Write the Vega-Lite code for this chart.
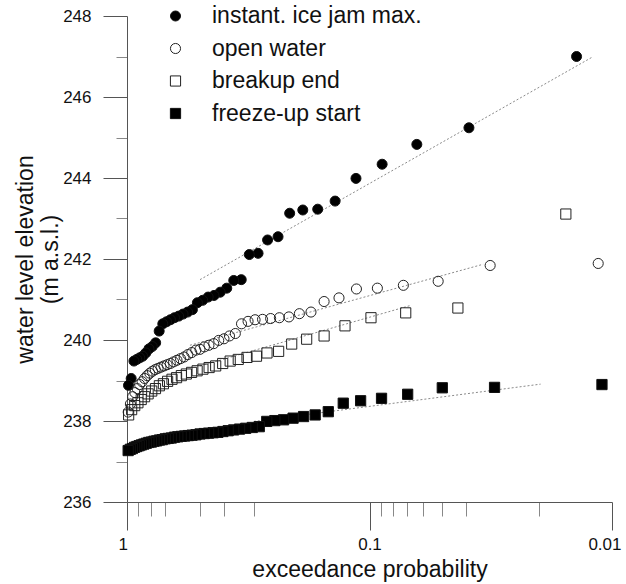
{
  "$schema": "https://vega.github.io/schema/vega-lite/v6.json",
  "width": 485,
  "height": 486,
  "autosize": "none",
  "padding": {"left": 127, "top": 16, "right": 14, "bottom": 82},
  "config": {
    "view": {"stroke": null},
    "font": "Liberation Sans",
    "axis": {"grid": false, "domainColor": "#555", "tickColor": "#555", "labelColor": "#111", "titleColor": "#111", "titleFontWeight": "normal", "labelFont": "Liberation Sans", "titleFont": "Liberation Sans"},
    "legend": {"orient": "none", "legendX": 37, "legendY": -11.5, "title": null, "labelFontSize": 23, "labelColor": "#111", "labelFont": "Liberation Sans", "labelLimit": 400, "rowPadding": 8.5, "labelOffset": 25, "padding": 0, "symbolStrokeWidth": 1}
  },
  "datasets": {
    "lines": [
      {"series": "ice", "p": 0.5, "y": 241.49},
      {"series": "ice", "p": 0.0121, "y": 246.98},
      {"series": "open", "p": 0.55, "y": 239.87},
      {"series": "open", "p": 0.034, "y": 241.87},
      {"series": "breakup", "p": 0.5, "y": 239.36},
      {"series": "breakup", "p": 0.068, "y": 240.85},
      {"series": "freeze", "p": 0.3, "y": 237.99},
      {"series": "freeze", "p": 0.0197, "y": 238.91}
    ],
    "pts": [
      {"series": "instant. ice jam max.", "p": 0.0140, "y": 247.0},
      {"series": "instant. ice jam max.", "p": 0.0389, "y": 245.24},
      {"series": "instant. ice jam max.", "p": 0.0638, "y": 244.83},
      {"series": "instant. ice jam max.", "p": 0.0887, "y": 244.34},
      {"series": "instant. ice jam max.", "p": 0.1137, "y": 243.99},
      {"series": "instant. ice jam max.", "p": 0.1386, "y": 243.43},
      {"series": "instant. ice jam max.", "p": 0.1635, "y": 243.23},
      {"series": "instant. ice jam max.", "p": 0.1884, "y": 243.21},
      {"series": "instant. ice jam max.", "p": 0.2134, "y": 243.13},
      {"series": "instant. ice jam max.", "p": 0.2383, "y": 242.55},
      {"series": "instant. ice jam max.", "p": 0.2632, "y": 242.47},
      {"series": "instant. ice jam max.", "p": 0.2881, "y": 242.14},
      {"series": "instant. ice jam max.", "p": 0.3131, "y": 242.11},
      {"series": "instant. ice jam max.", "p": 0.3380, "y": 241.49},
      {"series": "instant. ice jam max.", "p": 0.3629, "y": 241.47},
      {"series": "instant. ice jam max.", "p": 0.3878, "y": 241.28},
      {"series": "instant. ice jam max.", "p": 0.4128, "y": 241.18},
      {"series": "instant. ice jam max.", "p": 0.4377, "y": 241.1},
      {"series": "instant. ice jam max.", "p": 0.4626, "y": 241.06},
      {"series": "instant. ice jam max.", "p": 0.4875, "y": 240.98},
      {"series": "instant. ice jam max.", "p": 0.5125, "y": 240.92},
      {"series": "instant. ice jam max.", "p": 0.5374, "y": 240.75},
      {"series": "instant. ice jam max.", "p": 0.5623, "y": 240.69},
      {"series": "instant. ice jam max.", "p": 0.5872, "y": 240.64},
      {"series": "instant. ice jam max.", "p": 0.6122, "y": 240.59},
      {"series": "instant. ice jam max.", "p": 0.6371, "y": 240.55},
      {"series": "instant. ice jam max.", "p": 0.6620, "y": 240.5},
      {"series": "instant. ice jam max.", "p": 0.6869, "y": 240.45},
      {"series": "instant. ice jam max.", "p": 0.7119, "y": 240.4},
      {"series": "instant. ice jam max.", "p": 0.7368, "y": 240.22},
      {"series": "instant. ice jam max.", "p": 0.7617, "y": 239.93},
      {"series": "instant. ice jam max.", "p": 0.7866, "y": 239.84},
      {"series": "instant. ice jam max.", "p": 0.8116, "y": 239.78},
      {"series": "instant. ice jam max.", "p": 0.8365, "y": 239.68},
      {"series": "instant. ice jam max.", "p": 0.8614, "y": 239.6},
      {"series": "instant. ice jam max.", "p": 0.8863, "y": 239.56},
      {"series": "instant. ice jam max.", "p": 0.9113, "y": 239.52},
      {"series": "instant. ice jam max.", "p": 0.9362, "y": 239.48},
      {"series": "instant. ice jam max.", "p": 0.9611, "y": 239.05},
      {"series": "instant. ice jam max.", "p": 0.9860, "y": 238.88},

      {"series": "open water", "p": 0.0114, "y": 241.89},
      {"series": "open water", "p": 0.0318, "y": 241.84},
      {"series": "open water", "p": 0.0521, "y": 241.45},
      {"series": "open water", "p": 0.0725, "y": 241.35},
      {"series": "open water", "p": 0.0928, "y": 241.28},
      {"series": "open water", "p": 0.1132, "y": 241.26},
      {"series": "open water", "p": 0.1336, "y": 241.04},
      {"series": "open water", "p": 0.1539, "y": 240.95},
      {"series": "open water", "p": 0.1743, "y": 240.69},
      {"series": "open water", "p": 0.1946, "y": 240.65},
      {"series": "open water", "p": 0.2150, "y": 240.57},
      {"series": "open water", "p": 0.2353, "y": 240.55},
      {"series": "open water", "p": 0.2557, "y": 240.53},
      {"series": "open water", "p": 0.2761, "y": 240.51},
      {"series": "open water", "p": 0.2964, "y": 240.5},
      {"series": "open water", "p": 0.3168, "y": 240.46},
      {"series": "open water", "p": 0.3371, "y": 240.4},
      {"series": "open water", "p": 0.3575, "y": 240.16},
      {"series": "open water", "p": 0.3779, "y": 240.1},
      {"series": "open water", "p": 0.3982, "y": 240.03},
      {"series": "open water", "p": 0.4186, "y": 239.99},
      {"series": "open water", "p": 0.4389, "y": 239.91},
      {"series": "open water", "p": 0.4593, "y": 239.87},
      {"series": "open water", "p": 0.4796, "y": 239.83},
      {"series": "open water", "p": 0.5000, "y": 239.77},
      {"series": "open water", "p": 0.5204, "y": 239.75},
      {"series": "open water", "p": 0.5407, "y": 239.69},
      {"series": "open water", "p": 0.5611, "y": 239.64},
      {"series": "open water", "p": 0.5814, "y": 239.58},
      {"series": "open water", "p": 0.6018, "y": 239.54},
      {"series": "open water", "p": 0.6221, "y": 239.5},
      {"series": "open water", "p": 0.6425, "y": 239.46},
      {"series": "open water", "p": 0.6629, "y": 239.42},
      {"series": "open water", "p": 0.6832, "y": 239.39},
      {"series": "open water", "p": 0.7036, "y": 239.36},
      {"series": "open water", "p": 0.7239, "y": 239.33},
      {"series": "open water", "p": 0.7443, "y": 239.3},
      {"series": "open water", "p": 0.7647, "y": 239.27},
      {"series": "open water", "p": 0.7850, "y": 239.23},
      {"series": "open water", "p": 0.8054, "y": 239.18},
      {"series": "open water", "p": 0.8257, "y": 239.12},
      {"series": "open water", "p": 0.8461, "y": 239.05},
      {"series": "open water", "p": 0.8664, "y": 238.97},
      {"series": "open water", "p": 0.8868, "y": 238.9},
      {"series": "open water", "p": 0.9072, "y": 238.8},
      {"series": "open water", "p": 0.9275, "y": 238.7},
      {"series": "open water", "p": 0.9479, "y": 238.6},
      {"series": "open water", "p": 0.9682, "y": 238.42},
      {"series": "open water", "p": 0.9886, "y": 238.22},

      {"series": "breakup end", "p": 0.0155, "y": 243.11},
      {"series": "breakup end", "p": 0.0432, "y": 240.79},
      {"series": "breakup end", "p": 0.0709, "y": 240.67},
      {"series": "breakup end", "p": 0.0986, "y": 240.55},
      {"series": "breakup end", "p": 0.1262, "y": 240.35},
      {"series": "breakup end", "p": 0.1539, "y": 240.1},
      {"series": "breakup end", "p": 0.1816, "y": 240.02},
      {"series": "breakup end", "p": 0.2093, "y": 239.9},
      {"series": "breakup end", "p": 0.2370, "y": 239.72},
      {"series": "breakup end", "p": 0.2647, "y": 239.68},
      {"series": "breakup end", "p": 0.2924, "y": 239.6},
      {"series": "breakup end", "p": 0.3200, "y": 239.57},
      {"series": "breakup end", "p": 0.3477, "y": 239.52},
      {"series": "breakup end", "p": 0.3754, "y": 239.48},
      {"series": "breakup end", "p": 0.4031, "y": 239.42},
      {"series": "breakup end", "p": 0.4308, "y": 239.36},
      {"series": "breakup end", "p": 0.4585, "y": 239.32},
      {"series": "breakup end", "p": 0.4862, "y": 239.28},
      {"series": "breakup end", "p": 0.5138, "y": 239.24},
      {"series": "breakup end", "p": 0.5415, "y": 239.2},
      {"series": "breakup end", "p": 0.5692, "y": 239.16},
      {"series": "breakup end", "p": 0.5969, "y": 239.12},
      {"series": "breakup end", "p": 0.6246, "y": 239.07},
      {"series": "breakup end", "p": 0.6523, "y": 239.03},
      {"series": "breakup end", "p": 0.6800, "y": 238.98},
      {"series": "breakup end", "p": 0.7076, "y": 238.92},
      {"series": "breakup end", "p": 0.7353, "y": 238.87},
      {"series": "breakup end", "p": 0.7630, "y": 238.8},
      {"series": "breakup end", "p": 0.7907, "y": 238.74},
      {"series": "breakup end", "p": 0.8184, "y": 238.67},
      {"series": "breakup end", "p": 0.8461, "y": 238.6},
      {"series": "breakup end", "p": 0.8738, "y": 238.53},
      {"series": "breakup end", "p": 0.9014, "y": 238.45},
      {"series": "breakup end", "p": 0.9291, "y": 238.38},
      {"series": "breakup end", "p": 0.9568, "y": 238.28},
      {"series": "breakup end", "p": 0.9845, "y": 238.15},

      {"series": "freeze-up start", "p": 0.0110, "y": 238.9},
      {"series": "freeze-up start", "p": 0.0305, "y": 238.83},
      {"series": "freeze-up start", "p": 0.0501, "y": 238.82},
      {"series": "freeze-up start", "p": 0.0696, "y": 238.66},
      {"series": "freeze-up start", "p": 0.0892, "y": 238.56},
      {"series": "freeze-up start", "p": 0.1088, "y": 238.5},
      {"series": "freeze-up start", "p": 0.1283, "y": 238.44},
      {"series": "freeze-up start", "p": 0.1479, "y": 238.23},
      {"series": "freeze-up start", "p": 0.1675, "y": 238.15},
      {"series": "freeze-up start", "p": 0.1870, "y": 238.11},
      {"series": "freeze-up start", "p": 0.2066, "y": 238.07},
      {"series": "freeze-up start", "p": 0.2261, "y": 238.03},
      {"series": "freeze-up start", "p": 0.2457, "y": 238.01},
      {"series": "freeze-up start", "p": 0.2653, "y": 237.99},
      {"series": "freeze-up start", "p": 0.2848, "y": 237.86},
      {"series": "freeze-up start", "p": 0.3044, "y": 237.84},
      {"series": "freeze-up start", "p": 0.3239, "y": 237.82},
      {"series": "freeze-up start", "p": 0.3435, "y": 237.8},
      {"series": "freeze-up start", "p": 0.3631, "y": 237.78},
      {"series": "freeze-up start", "p": 0.3826, "y": 237.76},
      {"series": "freeze-up start", "p": 0.4022, "y": 237.74},
      {"series": "freeze-up start", "p": 0.4218, "y": 237.72},
      {"series": "freeze-up start", "p": 0.4413, "y": 237.71},
      {"series": "freeze-up start", "p": 0.4609, "y": 237.7},
      {"series": "freeze-up start", "p": 0.4804, "y": 237.69},
      {"series": "freeze-up start", "p": 0.5000, "y": 237.68},
      {"series": "freeze-up start", "p": 0.5196, "y": 237.66},
      {"series": "freeze-up start", "p": 0.5391, "y": 237.65},
      {"series": "freeze-up start", "p": 0.5587, "y": 237.64},
      {"series": "freeze-up start", "p": 0.5782, "y": 237.63},
      {"series": "freeze-up start", "p": 0.5978, "y": 237.62},
      {"series": "freeze-up start", "p": 0.6174, "y": 237.61},
      {"series": "freeze-up start", "p": 0.6369, "y": 237.6},
      {"series": "freeze-up start", "p": 0.6565, "y": 237.58},
      {"series": "freeze-up start", "p": 0.6761, "y": 237.57},
      {"series": "freeze-up start", "p": 0.6956, "y": 237.56},
      {"series": "freeze-up start", "p": 0.7152, "y": 237.54},
      {"series": "freeze-up start", "p": 0.7347, "y": 237.53},
      {"series": "freeze-up start", "p": 0.7543, "y": 237.51},
      {"series": "freeze-up start", "p": 0.7739, "y": 237.5},
      {"series": "freeze-up start", "p": 0.7934, "y": 237.48},
      {"series": "freeze-up start", "p": 0.8130, "y": 237.47},
      {"series": "freeze-up start", "p": 0.8326, "y": 237.45},
      {"series": "freeze-up start", "p": 0.8521, "y": 237.43},
      {"series": "freeze-up start", "p": 0.8717, "y": 237.41},
      {"series": "freeze-up start", "p": 0.8912, "y": 237.39},
      {"series": "freeze-up start", "p": 0.9108, "y": 237.37},
      {"series": "freeze-up start", "p": 0.9304, "y": 237.35},
      {"series": "freeze-up start", "p": 0.9499, "y": 237.32},
      {"series": "freeze-up start", "p": 0.9695, "y": 237.3},
      {"series": "freeze-up start", "p": 0.9890, "y": 237.27}
    ]
  },
  "resolve": {"axis": {"x": "independent", "y": "independent"}},
  "layer": [
    {
      "data": {"name": "lines"},
      "mark": {"type": "line", "strokeDash": [2, 2], "color": "#8a8a8a", "strokeWidth": 1},
      "encoding": {
        "x": {"field": "p", "type": "quantitative",
          "scale": {"type": "log", "domain": [0.01, 1], "reverse": true, "nice": false},
          "axis": {"orient": "bottom", "values": [0.9, 0.8, 0.7, 0.5, 0.4, 0.3, 0.09, 0.08, 0.07, 0.06, 0.05, 0.04, 0.02], "tickSize": 14, "labels": false, "domain": false, "title": null, "tickColor": "#888"}},
        "y": {"field": "y", "type": "quantitative",
          "scale": {"domain": [236, 248], "nice": false, "zero": false},
          "axis": {"orient": "left", "values": [237, 239, 241, 243, 245, 247], "tickSize": 11, "labels": false, "domain": false, "title": null, "tickColor": "#888"}},
        "detail": {"field": "series"}
      }
    },
    {
      "data": {"name": "pts"},
      "mark": {"type": "point", "opacity": 1, "strokeWidth": 1},
      "encoding": {
        "x": {"field": "p", "type": "quantitative",
          "scale": {"type": "log", "domain": [0.01, 1], "reverse": true, "nice": false},
          "axis": {"orient": "bottom", "values": [1, 0.1, 0.01], "format": "~g", "tickSize": 28, "labelFontSize": 17, "labelPadding": 6, "labelFlush": true, "labelFlushOffset": 9, "labelOverlap": false, "title": "exceedance probability", "titleFontSize": 23, "titlePadding": 6}},
        "y": {"field": "y", "type": "quantitative",
          "scale": {"domain": [236, 248], "nice": false, "zero": false},
          "axis": {"orient": "left", "values": [236, 238, 240, 242, 244, 246, 248], "tickSize": 24, "labelFontSize": 17, "labelPadding": 12, "labelFlush": false, "labelOverlap": false, "title": ["water level elevation", "(m a.s.l.)"], "titleFontSize": 23, "titlePadding": 0}},
        "shape": {"field": "series", "type": "nominal",
          "scale": {"domain": ["instant. ice jam max.", "open water", "breakup end", "freeze-up start"], "range": ["circle", "circle", "square", "square"]}},
        "fill": {"field": "series", "type": "nominal",
          "scale": {"domain": ["instant. ice jam max.", "open water", "breakup end", "freeze-up start"], "range": ["#000000", "transparent", "transparent", "#000000"]}},
        "stroke": {"field": "series", "type": "nominal",
          "scale": {"domain": ["instant. ice jam max.", "open water", "breakup end", "freeze-up start"], "range": ["#111111", "#222222", "#222222", "#111111"]}},
        "size": {"field": "series", "type": "nominal",
          "scale": {"domain": ["instant. ice jam max.", "open water", "breakup end", "freeze-up start"], "range": [100, 105, 125, 145]}}
      }
    }
  ]
}
